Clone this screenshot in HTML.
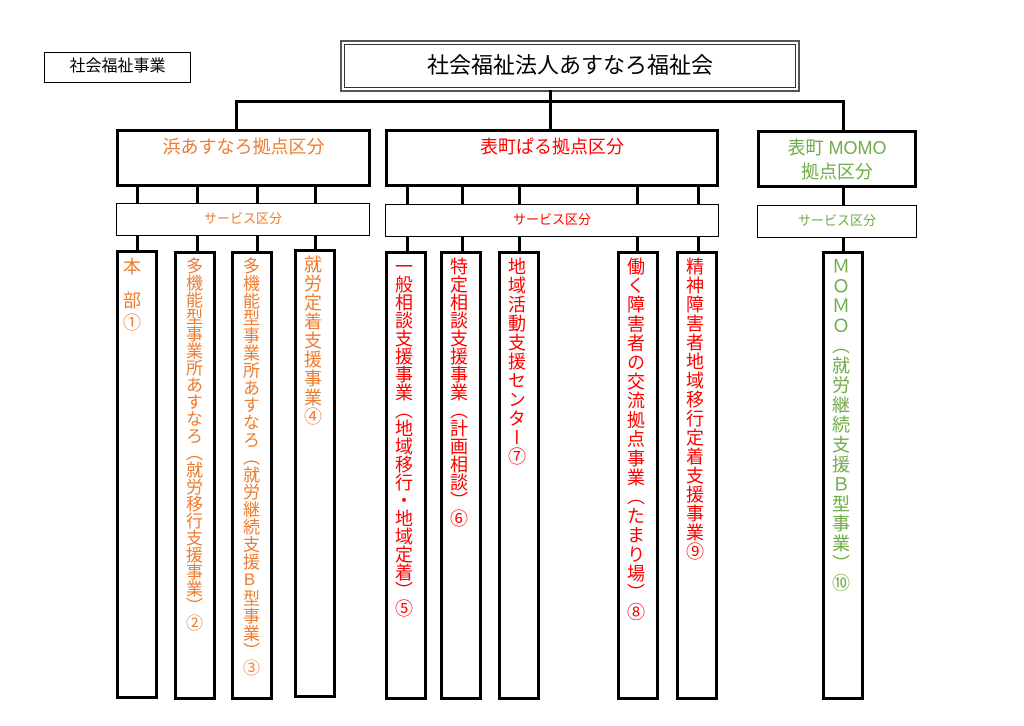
<!DOCTYPE html>
<html><head><meta charset="utf-8"><style>
body{margin:0;width:1024px;height:726px;background:#fff;position:relative;overflow:hidden;font-family:"Liberation Sans","Noto Sans CJK JP",sans-serif}
.a{position:absolute;box-sizing:border-box}
.l{position:absolute;background:#000}
.big{border:3px solid #000;background:#fff;text-align:center;font-size:18px;padding-top:3px;line-height:24px}
.svc{border:1.5px solid #000;background:#fff;text-align:center;font-size:13px;line-height:30px}
.col{border:3px solid #000;background:#fff;top:250px;height:449px;width:42px}
.v{position:absolute;top:3px;left:3px;writing-mode:vertical-rl;text-orientation:upright;font-size:18px;line-height:24px;letter-spacing:1px;white-space:nowrap}
.o{color:#ED7D31}.r{color:#F00}.g{color:#70AD47}
</style></head><body>
<div class="a" style="left:44px;top:52px;width:147px;height:31px;border:1.5px solid #000;font-size:16px;text-align:center;line-height:28px">社会福祉事業</div>
<div class="a" style="left:340px;top:40px;width:460px;height:52px;border:2px solid #555"></div>
<div class="a" style="left:344px;top:44px;width:452px;height:44px;border:1.5px solid #333;font-size:22px;text-align:center;line-height:42px">社会福祉法人あすなろ福祉会</div>

<div class="l" style="left:549px;top:90px;width:3px;height:41px"></div>
<div class="l" style="left:235px;top:100px;width:610px;height:3px"></div>
<div class="l" style="left:235px;top:100px;width:3px;height:31px"></div>
<div class="l" style="left:842px;top:100px;width:3px;height:31px"></div>

<div class="a big o" style="left:116px;top:129px;width:255px;height:58px">浜あすなろ拠点区分</div>
<div class="a big r" style="left:385px;top:129px;width:334px;height:58px">表町ぱる拠点区分</div>
<div class="a big g" style="left:757px;top:130px;width:160px;height:58px">表町 MOMO<br>拠点区分</div>

<div class="l" style="left:136px;top:186px;width:3px;height:65px"></div>
<div class="l" style="left:196px;top:186px;width:3px;height:66px"></div>
<div class="l" style="left:256px;top:186px;width:3px;height:66px"></div>
<div class="l" style="left:314px;top:186px;width:3px;height:64px"></div>
<div class="l" style="left:406px;top:186px;width:3px;height:66px"></div>
<div class="l" style="left:461px;top:186px;width:3px;height:66px"></div>
<div class="l" style="left:518px;top:186px;width:3px;height:66px"></div>
<div class="l" style="left:636px;top:186px;width:3px;height:66px"></div>
<div class="l" style="left:697px;top:186px;width:3px;height:66px"></div>
<div class="l" style="left:842px;top:187px;width:3px;height:65px"></div>

<div class="a svc o" style="left:116px;top:203px;width:254px;height:33px">サービス区分</div>
<div class="a svc r" style="left:385px;top:204px;width:334px;height:33px">サービス区分</div>
<div class="a svc g" style="left:757px;top:205px;width:160px;height:33px">サービス区分</div>

<div class="a col" style="left:116px">
  <div class="a o" style="left:4px;top:3px;font-size:18px;line-height:22px">本</div>
  <div class="a o" style="left:4px;top:37px;font-size:18px;line-height:22px">部<br>①</div>
</div>
<div class="a col" style="left:174px;top:251px"><div class="v o" style="font-size:17px;letter-spacing:0">多機能型事業所あすなろ（就労移行支援事業）②</div></div>
<div class="a col" style="left:231px;top:251px"><div class="v o" style="font-size:17px;letter-spacing:0.4px">多機能型事業所あすなろ（就労継続支援B型事業）③</div></div>
<div class="a col" style="left:294px;top:249px"><div class="v o">就労定着支援事業④</div></div>
<div class="a col" style="left:385px;top:251px"><div class="v r" style="letter-spacing:0">一般相談支援事業（地域移行・地域定着）⑤</div></div>
<div class="a col" style="left:440px;top:251px"><div class="v r" style="letter-spacing:0">特定相談支援事業（計画相談）⑥</div></div>
<div class="a col" style="left:498px;top:251px"><div class="v r">地域活動支援センター⑦</div></div>
<div class="a col" style="left:617px;top:251px"><div class="v r" style="letter-spacing:1.2px">働く障害者の交流拠点事業（たまり場）⑧</div></div>
<div class="a col" style="left:676px;top:251px"><div class="v r">精神障害者地域移行定着支援事業⑨</div></div>
<div class="a col" style="left:822px;top:251px"><div class="v g" style="letter-spacing:1.8px">ＭＯＭＯ（就労継続支援Ｂ型事業）⑩</div></div>
</body></html>
